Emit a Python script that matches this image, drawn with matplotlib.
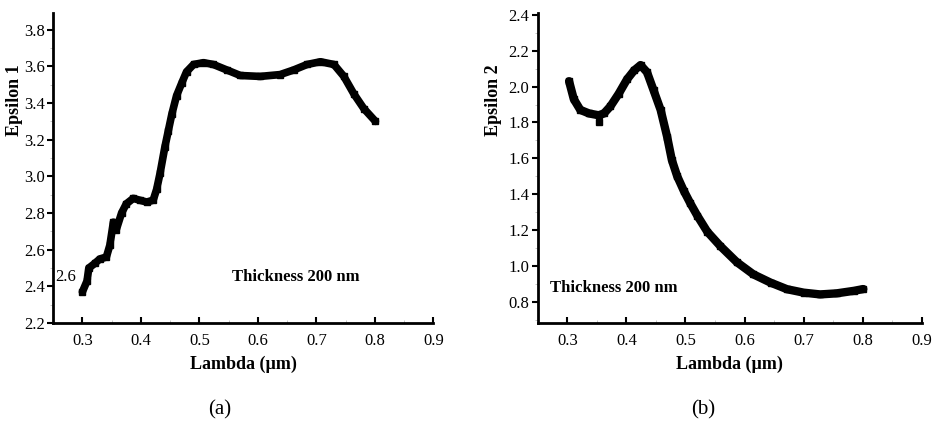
import matplotlib
matplotlib.use("Agg")
import matplotlib.pyplot as plt
from matplotlib.ticker import MultipleLocator

# Panel (a): Epsilon 1
lam_a = [0.300, 0.308, 0.311, 0.321, 0.330, 0.341, 0.347, 0.353, 0.358, 0.367,
         0.375, 0.387, 0.398, 0.410, 0.421, 0.427, 0.433, 0.441, 0.447, 0.453,
         0.461, 0.470, 0.478, 0.490, 0.507, 0.524, 0.547, 0.570, 0.604, 0.638,
         0.661, 0.684, 0.707, 0.730, 0.747, 0.764, 0.781, 0.801]
eps1 = [2.37, 2.43, 2.50, 2.525, 2.55, 2.56, 2.625, 2.75, 2.71, 2.80,
        2.85, 2.88, 2.87, 2.86, 2.87, 2.93, 3.02, 3.16, 3.25, 3.34,
        3.44, 3.51, 3.57, 3.61, 3.62, 3.61, 3.58, 3.55, 3.545, 3.555,
        3.58, 3.61, 3.625, 3.61, 3.545, 3.45, 3.37, 3.30]

# Panel (b): Epsilon 2
lam_b = [0.303, 0.311, 0.322, 0.337, 0.353, 0.362, 0.373, 0.387, 0.401, 0.413,
         0.424, 0.435, 0.446, 0.458, 0.469, 0.477, 0.486, 0.497, 0.508, 0.520,
         0.537, 0.559, 0.587, 0.615, 0.644, 0.672, 0.700, 0.728, 0.756, 0.785,
         0.801]
eps2 = [2.03, 1.93, 1.87, 1.85, 1.84, 1.85, 1.89, 1.96, 2.04, 2.09,
        2.12, 2.08, 1.98, 1.87, 1.72, 1.59, 1.50, 1.42, 1.35, 1.28,
        1.19, 1.11, 1.02, 0.952, 0.906, 0.869, 0.85, 0.84, 0.846, 0.86,
        0.87]

xticks = [0.3, 0.4, 0.5, 0.6, 0.7, 0.8, 0.9]
yticks_a = [2.2, 2.4, 2.6, 2.8, 3.0, 3.2, 3.4, 3.6, 3.8]
yticks_b = [0.8, 1.0, 1.2, 1.4, 1.6, 1.8, 2.0, 2.2, 2.4]

serif = ['Liberation Serif', 'DejaVu Serif']
tickfont = serif

fig = plt.figure(figsize=(9.32, 4.24), dpi=100)
ax1 = fig.add_axes([0.057, 0.238, 0.408, 0.731])
ax2 = fig.add_axes([0.577, 0.238, 0.412, 0.731])

def style(ax, yticks, ylim, ylabel, ylab_x):
    ax.set_xlim(0.25, 0.9)
    ax.set_ylim(*ylim)
    ax.set_xticks(xticks)
    ax.set_yticks(yticks)
    ax.set_xticklabels([f"{v:.1f}" for v in xticks], family=tickfont, fontsize=12)
    ax.set_yticklabels([f"{v:.1f}" for v in yticks], family=tickfont, fontsize=12)
    ax.xaxis.set_minor_locator(MultipleLocator(0.05))
    ax.yaxis.set_minor_locator(MultipleLocator(0.1))
    for s in ['top', 'right']:
        ax.spines[s].set_visible(False)
    for s in ['left', 'bottom']:
        ax.spines[s].set_linewidth(2)
    ax.tick_params(axis='x', which='major', direction='in', length=4, width=1.5, pad=7)
    ax.tick_params(axis='x', which='minor', direction='in', length=2, width=0.6, colors='#bbbbbb')
    ax.tick_params(axis='y', which='major', direction='out', length=4, width=1.5, pad=2)
    ax.tick_params(axis='y', which='minor', direction='out', length=2, width=0.6, colors='#bbbbbb')
    ax.set_xlabel('Lambda (µm)', family=serif, fontweight='bold', fontsize=13)
    ax.xaxis.set_label_coords(0.5, -0.105)
    ax.set_ylabel(ylabel, family=serif, fontweight='bold', fontsize=13)
    ax.yaxis.set_label_coords(ylab_x, 0.72)

ax1.plot(lam_a, eps1, color='black', lw=5.5, solid_capstyle='round',
         marker='s', ms=4.5, mfc='black', mec='black')
style(ax1, yticks_a, (2.2, 3.89), 'Epsilon 1', -0.079)
ax1.text(0.272, 2.45, '2.6', family=tickfont, fontsize=12, ha='center', va='center')
ax1.text(0.664, 2.45, 'Thickness 200 nm', family=serif, fontweight='bold',
         fontsize=12, ha='center', va='center')

ax2.plot(lam_b, eps2, color='black', lw=6, solid_capstyle='round',
         marker='s', ms=5, mfc='black', mec='black')
ax2.plot([0.353], [1.80], 's', color='black', ms=5)
style(ax2, yticks_b, (0.68, 2.41), 'Epsilon 2', -0.094)
ax2.text(0.379, 0.878, 'Thickness 200 nm', family=serif, fontweight='bold',
         fontsize=12, ha='center', va='center')

fig.text(220 / 932, 1 - 410 / 424, '(a)', family=serif, fontsize=15, ha='center', va='center')
fig.text(703 / 932, 1 - 410 / 424, '(b)', family=serif, fontsize=15, ha='center', va='center')

fig.savefig('out.png', dpi=100)
